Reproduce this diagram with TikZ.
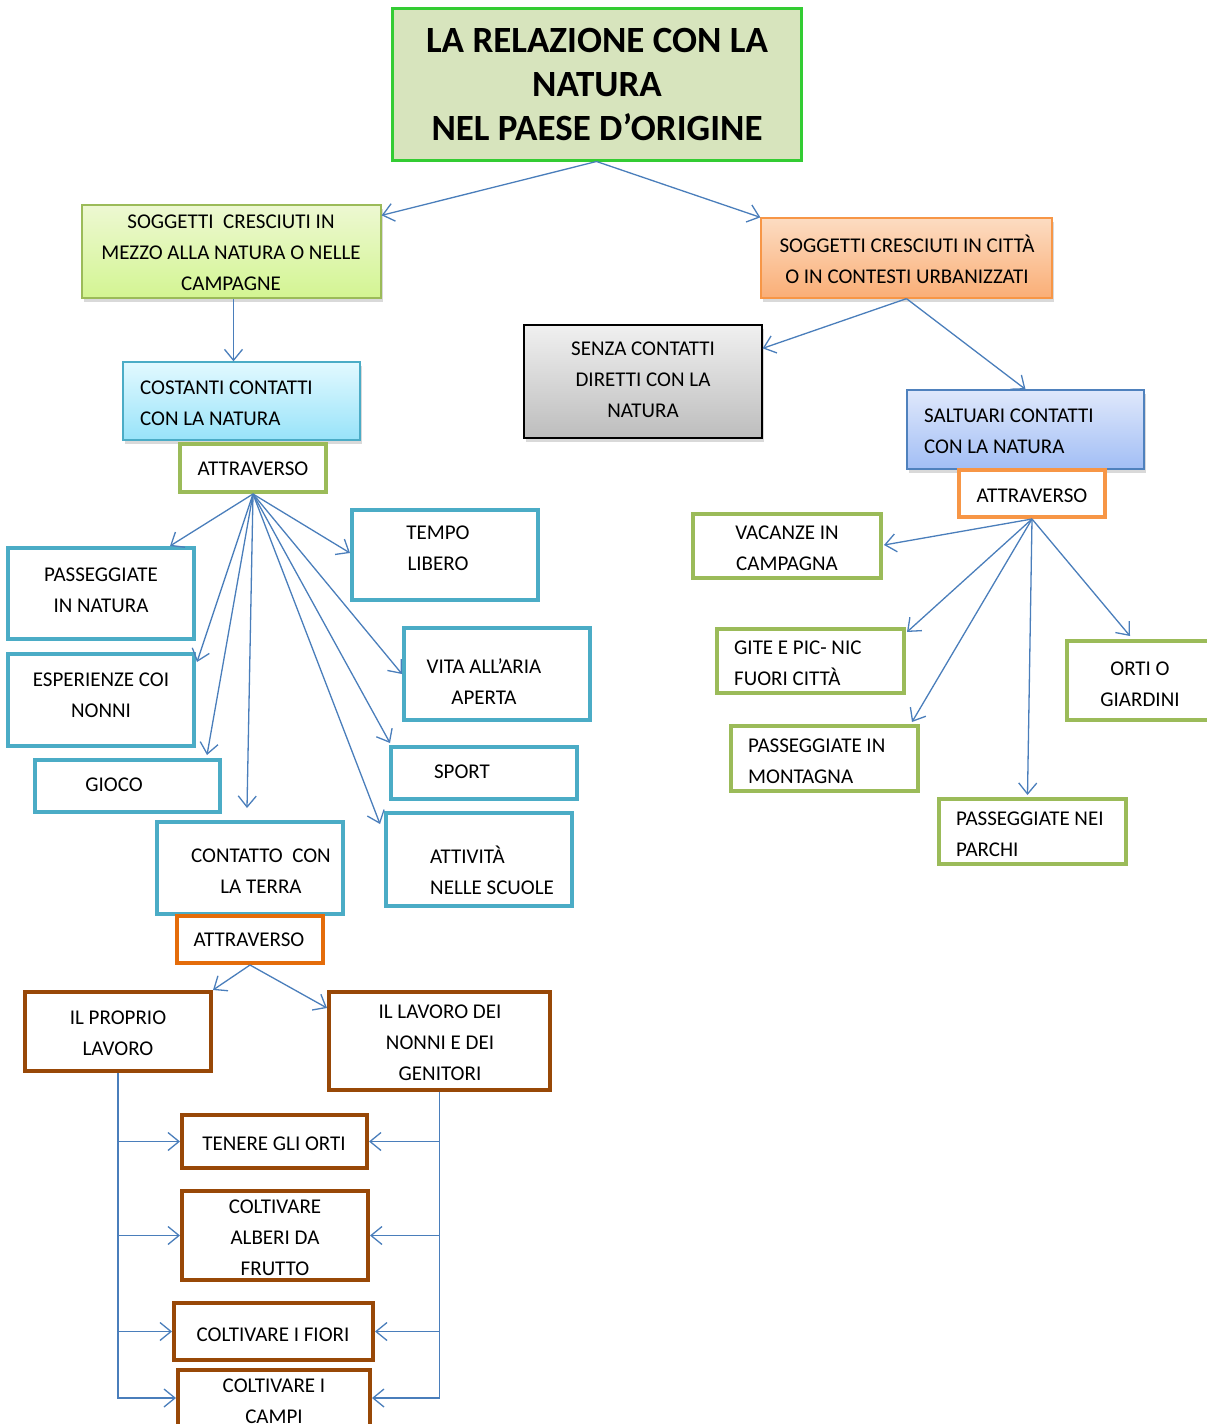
\documentclass[tikz,border=0pt]{standalone}
\usepackage{fontspec}
\setmainfont{Carlito}
\usetikzlibrary{arrows.meta,calc,shadows}
\definecolor{arrowc}{HTML}{4A7EBB}
\definecolor{titlefill}{HTML}{D7E4BD}
\definecolor{titleline}{HTML}{33CC33}
\definecolor{olive}{HTML}{9BBB59}
\definecolor{aqua}{HTML}{4BACC6}
\definecolor{orng}{HTML}{F79646}
\definecolor{dorng}{HTML}{E46C0A}
\definecolor{brown}{HTML}{984807}
\definecolor{blueline}{HTML}{4F81BD}
\definecolor{slT}{HTML}{EDF8D2}
\definecolor{slB}{HTML}{D3F592}
\definecolor{srT}{HTML}{FCDCC2}
\definecolor{srB}{HTML}{FAAE76}
\definecolor{seT}{HTML}{F0F0F0}
\definecolor{seB}{HTML}{BDBDBD}
\definecolor{coT}{HTML}{E2F9FF}
\definecolor{coB}{HTML}{98E3F9}
\definecolor{saT}{HTML}{DFE8FB}
\definecolor{saB}{HTML}{A2BEF5}
\newcommand\bx[6]{\node[#6, minimum width=#4pt, minimum height=#5pt, inner sep=0pt] (#1) at (#2,#3) {};}
\tikzset{
  txt/.style={font=\fontsize{21}{31}\selectfont, align=center, inner sep=0pt},
  ltxt/.style={txt, align=left, anchor=west},
  arr/.style={draw=arrowc, line width=1.3pt, -{Straight Barb[length=11pt,width=18pt]}},
  shad/.style={drop shadow={shadow xshift=2pt, shadow yshift=-4pt, opacity=.25, fill=black!60}},
  greenbox/.style={draw=olive, line width=4pt, fill=white},
  aquabox/.style={draw=aqua, line width=4pt, fill=white},
  brownbox/.style={draw=brown, line width=4pt, fill=white},
}
\begin{document}
\begin{tikzpicture}[x=1pt,y=-1pt]
\useasboundingbox (0,0) rectangle (1207,1424);
\clip (0,0) rectangle (1207,1424);
% title
\bx{title}{596.5}{84}{409}{152}{draw=titleline, line width=3pt, fill=titlefill}
\node[txt, font=\fontsize{37}{44}\selectfont\bfseries] (ttitle) at (597,84) {LA RELAZIONE CON LA\\NATURA\\NEL PAESE D’ORIGINE};
% level 2
\bx{sl}{231.5}{251.5}{299}{93}{shad, draw=olive, line width=1.3pt, top color=slT, bottom color=slB}
\node[txt] (tsl) at (231,253) {SOGGETTI\ \ CRESCIUTI IN\\MEZZO ALLA NATURA O NELLE\\CAMPAGNE};
\bx{sr}{906.5}{258}{291}{80}{shad, draw=orng, line width=1.3pt, top color=srT, bottom color=srB}
\node[txt] (tsr) at (907,259) {SOGGETTI CRESCIUTI IN CITTÀ\\O IN CONTESTI URBANIZZATI};
% level 3
\bx{senza}{643}{381.5}{238}{113}{shad, draw=black, line width=1.3pt, top color=seT, bottom color=seB}
\node[txt] (tsenza) at (643,380) {SENZA CONTATTI\\DIRETTI CON LA\\NATURA};
\bx{cost}{241.5}{401}{237}{78}{shad, draw=aqua, line width=1.3pt, top color=coT, bottom color=coB}
\node[ltxt] (tcost) at (140,403) {COSTANTI CONTATTI\\CON LA NATURA};
\bx{salt}{1025.5}{429.5}{237}{79}{shad, draw=blueline, line width=1.3pt, top color=saT, bottom color=saB}
\node[ltxt] (tsalt) at (924,431) {SALTUARI CONTATTI\\CON LA NATURA};
% attraverso
\bx{attl}{253}{468}{146}{48}{greenbox}
\node[txt] (tattl) at (253,469) {ATTRAVERSO};
\bx{attr}{1032}{493.5}{146}{47}{draw=orng, line width=4pt, fill=white}
\node[txt] (tattr) at (1032,496) {ATTRAVERSO};
% left cyan boxes
\bx{pn}{101}{593.5}{186}{91}{aquabox}
\node[txt] (tpn) at (101,590) {PASSEGGIATE\\IN NATURA};
\bx{en}{101}{700}{186}{92}{aquabox}
\node[txt] (ten) at (101,695) {ESPERIENZE COI\\NONNI};
\bx{gioco}{127.5}{786}{185}{52}{aquabox}
\node[txt] (tgioco) at (114,785) {GIOCO};
\bx{tempo}{445}{555}{186}{90}{aquabox}
\node[txt] (ttempo) at (438,548) {TEMPO\\LIBERO};
\bx{vita}{497}{674}{186}{92}{aquabox}
\node[txt] (tvita) at (484,682) {VITA ALL’ARIA\\APERTA};
\bx{sport}{484}{773}{186}{52}{aquabox}
\node[txt] (tsport) at (462,772) {SPORT};
\bx{attiv}{479}{859.5}{186}{93}{aquabox}
\node[ltxt] (tattiv) at (430,870) {ATTIVITÀ\\NELLE SCUOLE};
\bx{cont}{250}{868}{186}{92}{aquabox}
\node[txt] (tcont) at (261,871) {CONTATTO\ \ CON\\LA TERRA};
\bx{atto}{250}{939.5}{146}{47}{draw=dorng, line width=4pt, fill=white}
\node[txt] (tatto) at (249,940) {ATTRAVERSO};
% brown boxes
\bx{prop}{118}{1031.5}{186}{79}{brownbox}
\node[txt] (tprop) at (118,1033) {IL PROPRIO\\LAVORO};
\bx{lav}{439.5}{1041}{221}{98}{brownbox}
\node[txt] (tlav) at (440,1043) {IL LAVORO DEI\\NONNI E DEI\\GENITORI};
\bx{tenb}{274.5}{1141.5}{185}{53}{brownbox}
\node[txt] (ttenb) at (274,1144) {TENERE GLI ORTI};
\bx{alb}{275}{1235.5}{186}{89}{brownbox}
\node[txt] (talb) at (275,1238) {COLTIVARE\\ALBERI DA\\FRUTTO};
\bx{fio}{273.5}{1331.5}{199}{57}{brownbox}
\node[txt] (tfio) at (273,1335) {COLTIVARE I FIORI};
\bx{campi}{274}{1405}{192}{70}{brownbox}
\node[txt] (tcampi) at (274,1401) {COLTIVARE I\\CAMPI};
% right green boxes
\bx{vac}{787}{546}{188}{64}{greenbox}
\node[txt] (tvac) at (787,548) {VACANZE IN\\CAMPAGNA};
\bx{gite}{810.5}{661}{187}{64}{greenbox}
\node[ltxt] (tgite) at (734,663) {GITE E PIC- NIC\\FUORI CITTÀ};
\bx{mont}{824.5}{758.5}{187}{65}{greenbox}
\node[ltxt] (tmont) at (748,761) {PASSEGGIATE IN\\MONTAGNA};
\bx{orti}{1140}{680.5}{146}{79}{greenbox}
\node[txt] (torti) at (1140,684) {ORTI O\\GIARDINI};
\bx{parchi}{1032.5}{831.5}{187}{65}{greenbox}
\node[ltxt] (tparchi) at (956,834) {PASSEGGIATE NEI\\PARCHI};
% connectors
\draw[arr] (title.south) -- ($(sl.north east)+(0,11)$);
\draw[arr] (title.south) -- (sr.north west);
\draw[arr] ($(sl.south)+(2,0)$) -- ($(cost.north)+(-8,0)$);
\draw[arr] (sr.south) -- ($(senza.north east)+(0,24)$);
\draw[arr] (sr.south) -- (salt.north);
\draw[arr] (attl.south) -- ($(pn.north east)+(-26,0)$);
\draw[arr] (attl.south) -- ($(en.north east)+(1,10)$);
\draw[arr] (attl.south) -- ($(gioco.north east)+(-15,-3)$);
\draw[arr] (attl.south) -- ($(cont.north)+(-3,-12)$);
\draw[arr] (attl.south) -- ($(tempo.west)+(0,-2)$);
\draw[arr] (attl.south) -- (vita.west);
\draw[arr] (attl.south) -- ($(sport.north west)+(1,-2)$);
\draw[arr] (attl.south) -- ($(attiv.north west)+(-4,13)$);
\draw[arr] (attr.south) -- ($(vac.east)+(1,-1)$);
\draw[arr] (attr.south) -- ($(gite.north east)+(1,5)$);
\draw[arr] (attr.south) -- ($(mont.north east)+(-8,-2)$);
\draw[arr] (attr.south) -- ($(parchi.north)+(-5,-2)$);
\draw[arr] (attr.south) -- ($(orti.north)+(-10,-3)$);
\draw[arr] (atto.south) -- (prop.north east);
\draw[arr] (atto.south) -- ($(lav.north west)+(0,18)$);
\draw[arr] (prop.south) |- (tenb.west);
\draw[arr] (prop.south) |- (alb.west);
\draw[arr] (prop.south) |- (fio.west);
\draw[arr] (prop.south) |- ($(campi.west)+(0,-7)$);
\draw[arr] (lav.south) |- (tenb.east);
\draw[arr] (lav.south) |- (alb.east);
\draw[arr] (lav.south) |- (fio.east);
\draw[arr] (lav.south) |- ($(campi.east)+(0,-7)$);
\end{tikzpicture}
\end{document}
